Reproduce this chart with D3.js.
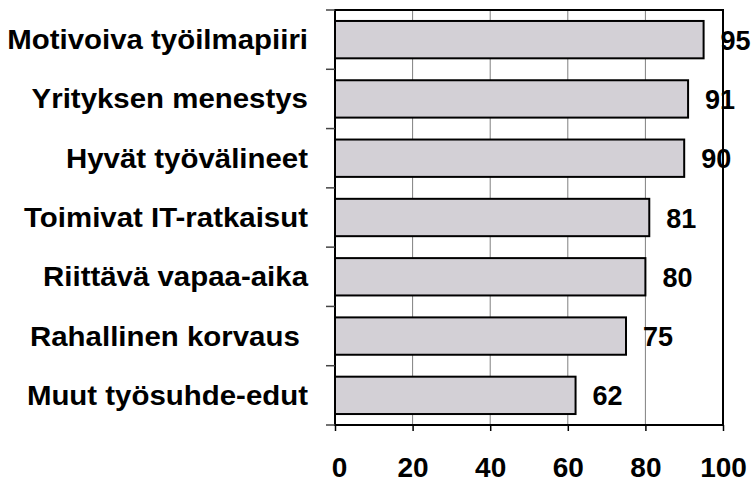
<!DOCTYPE html>
<html>
<head>
<meta charset="utf-8">
<script src="https://cdn.jsdelivr.net/npm/d3@7"></script>
<style>
  body { margin: 0; background: #fff; }
  svg text { font-family: Arial, "Liberation Sans", sans-serif; font-weight: bold; fill: #000; }
</style>
</head>
<body>
<div id="chart"></div>
<script>
const categories = [
  "Motivoiva työilmapiiri",
  "Yrityksen menestys",
  "Hyvät työvälineet",
  "Toimivat IT-ratkaisut",
  "Riittävä vapaa-aika",
  "Rahallinen korvaus ",
  "Muut työsuhde-edut"
];
const values = [95, 91, 90, 81, 80, 75, 62];
const xTicks = [0, 20, 40, 60, 80, 100];

const width = 754, height = 483;
const plotLeft = 335, plotRight = 723, plotTop = 10, plotBottom = 425;

const svg = d3.select("#chart")
  .append("svg")
  .attr("width", width)
  .attr("height", height);

const x = d3.scaleLinear().domain([0, 100]).range([plotLeft, plotRight]);
const y = d3.scaleBand().domain(categories).range([plotTop, plotBottom])
  .paddingInner(0.37).paddingOuter(0.185);

// gridlines
svg.append("g")
  .selectAll("line")
  .data(xTicks.filter(d => d > 0 && d < 100))
  .enter()
  .append("line")
  .attr("x1", d => x(d)).attr("x2", d => x(d))
  .attr("y1", plotTop).attr("y2", plotBottom)
  .attr("stroke", "#808080")
  .attr("stroke-width", 1);

// bars
const data = categories.map((c, i) => ({ cat: c, value: values[i] }));
svg.append("g")
  .selectAll("rect")
  .data(data)
  .enter()
  .append("rect")
  .attr("x", x(0))
  .attr("y", d => y(d.cat))
  .attr("width", d => x(d.value) - x(0))
  .attr("height", y.bandwidth())
  .attr("fill", "#D3D0D6")
  .attr("stroke", "#000")
  .attr("stroke-width", 2);

// plot border
svg.append("rect")
  .attr("x", plotLeft).attr("y", plotTop)
  .attr("width", plotRight - plotLeft).attr("height", plotBottom - plotTop)
  .attr("fill", "none")
  .attr("stroke", "#000")
  .attr("stroke-width", 2);

// y ticks at band boundaries
const step = y.step();
svg.append("g")
  .selectAll("line")
  .data(d3.range(categories.length + 1))
  .enter()
  .append("line")
  .attr("x1", plotLeft - 9).attr("x2", plotLeft)
  .attr("y1", i => plotTop + i * step).attr("y2", i => plotTop + i * step)
  .attr("stroke", "#444")
  .attr("stroke-width", 1.5);

// x axis
const xAxis = d3.axisBottom(x).tickValues(xTicks).tickSize(6).tickPadding(26);
const gx = svg.append("g")
  .attr("transform", `translate(0,${plotBottom})`)
  .call(xAxis);
gx.select(".domain").remove();
gx.selectAll(".tick line").attr("stroke", "#000").attr("stroke-width", 1.5);
gx.selectAll(".tick text")
  .attr("dx", d => d === 0 ? 4 : 0)
  .style("font-size", "28px")
  .style("font-family", "Arial, 'Liberation Sans', sans-serif")
  .style("font-weight", "bold")
  .attr("fill", "#000");

// category labels
svg.append("g")
  .selectAll("text")
  .data(categories)
  .enter()
  .append("text")
  .attr("transform", d => `translate(308,${y(d) + y.bandwidth() / 2 + 9.5}) scale(1.09,1)`)
  .attr("text-anchor", "end")
  .style("font-size", "27px")
  .style("white-space", "pre")
  .text(d => d);

// value labels
svg.append("g")
  .selectAll("text")
  .data(data)
  .enter()
  .append("text")
  .attr("x", d => x(d.value) + 17)
  .attr("y", d => y(d.cat) + y.bandwidth() / 2 + 10)
  .style("font-size", "27px")
  .text(d => d.value);
</script>
</body>
</html>
